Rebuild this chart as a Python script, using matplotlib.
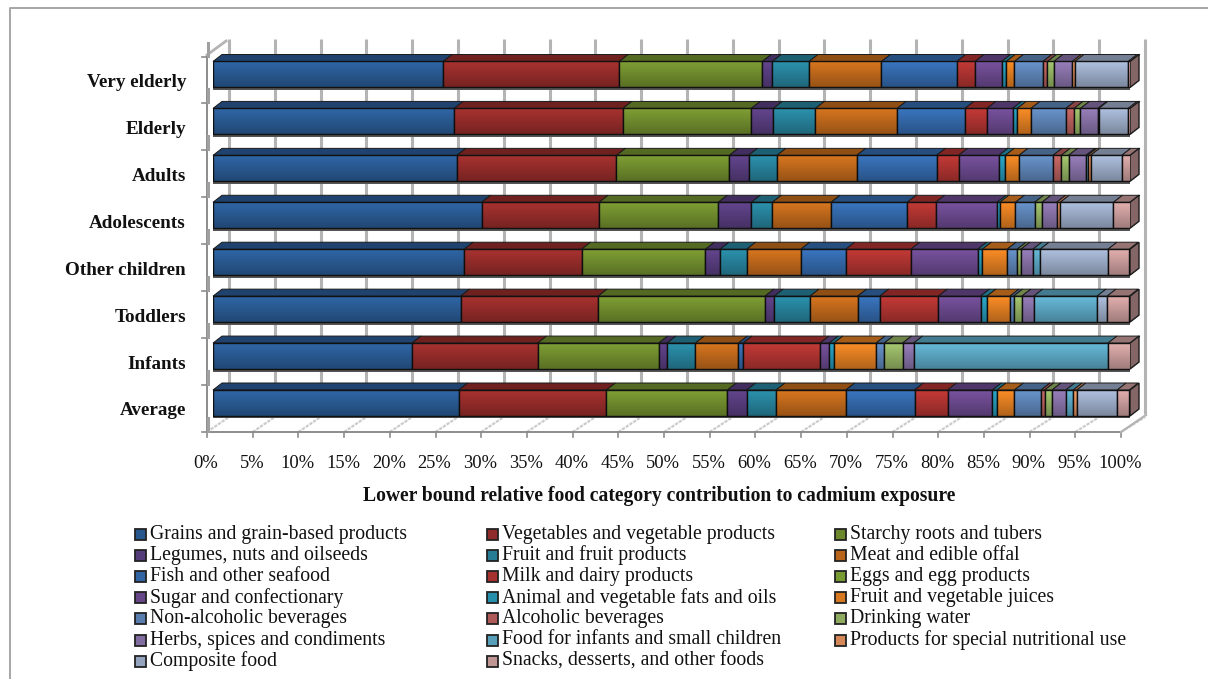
import numpy as np
import matplotlib
matplotlib.use("Agg")
from matplotlib import pyplot as plt
from matplotlib.colors import to_rgb
from matplotlib.patches import Polygon, Rectangle

plt.rcParams['font.family'] = ['Liberation Serif', 'DejaVu Serif']

W, H = 1208, 679

groups = ["Average", "Infants", "Toddlers", "Other children", "Adolescents", "Adults", "Elderly", "Very elderly"]

categories = ["Grains and grain-based products", "Vegetables and vegetable products", "Starchy roots and tubers",
              "Legumes, nuts and oilseeds", "Fruit and fruit products", "Meat and edible offal",
              "Fish and other seafood", "Milk and dairy products", "Eggs and egg products",
              "Sugar and confectionary", "Animal and vegetable fats and oils", "Fruit and vegetable juices",
              "Non-alcoholic beverages", "Alcoholic beverages", "Drinking water",
              "Herbs, spices and condiments", "Food for infants and small children",
              "Products for special nutritional use", "Composite food", "Snacks, desserts, and other foods"]

colors = ["#2f66a6", "#a83230", "#7f9f34", "#63458e", "#2c92ae", "#d8761f",
          "#3a76c0", "#c43a37", "#8db53c", "#78529f", "#2ba8ca", "#fb8d26",
          "#6994cc", "#cc6a68", "#a6c870", "#9880bb", "#66bada", "#f9a068",
          "#afc1e0", "#e2b0ae"]

average = [26.8, 16.1, 13.2, 2.1, 3.2, 7.6, 7.5, 3.6, 0, 4.9, 0.5, 1.9, 2.9, 0.4, 0.8, 1.5, 0.8, 0.4, 4.4, 1.3]
infants = [21.7, 13.7, 13.2, 0.9, 3.1, 4.7, 0.5, 8.4, 0, 1.0, 0.5, 4.6, 0.9, 0, 2.0, 1.2, 21.2, 0, 0, 2.5]
toddlers = [27.0, 15.0, 18.2, 1.0, 3.9, 5.2, 2.4, 6.4, 0, 4.6, 0.7, 2.5, 0.4, 0, 0.9, 1.3, 6.9, 0, 1.1, 2.4]
other_children = [27.4, 12.8, 13.5, 1.6, 2.9, 5.9, 4.9, 7.1, 0, 7.3, 0.5, 2.7, 1.1, 0, 0.4, 1.3, 0.8, 0, 7.4, 2.3]
adolescents = [29.3, 12.8, 13.0, 3.6, 2.3, 6.4, 8.3, 3.1, 0, 6.7, 0.3, 1.7, 2.1, 0, 0.8, 1.6, 0, 0.4, 5.8, 1.9]
adults = [26.6, 17.4, 12.3, 2.1, 3.1, 8.7, 8.7, 2.4, 0, 4.4, 0.7, 1.5, 3.7, 0.9, 0.8, 1.9, 0.2, 0.3, 3.4, 1.0]
elderly = [26.3, 18.4, 14.0, 2.4, 4.6, 8.9, 7.4, 2.4, 0, 2.8, 0.5, 1.5, 3.8, 0.9, 0.7, 1.9, 0, 0.1, 3.2, 0.3]
very_elderly = [25.1, 19.2, 15.6, 1.1, 4.0, 7.9, 8.2, 2.0, 0, 2.9, 0.5, 0.9, 3.1, 0.5, 0.7, 2.0, 0, 0.3, 5.8, 0.3]

rows = [average, infants, toddlers, other_children, adolescents, adults, elderly, very_elderly]
xticks = list(range(0, 101, 5))

# pixel geometry of the fake 3d box
BAR_X0, BAR_X1 = 213, 1130
ROW_Y0, ROW_STEP = 403, 46.93
BAR_H = 26
DEPTH_X, DEPTH_Y = 9, 7
FLOOR_L, FLOOR_R, FLOOR_Y = 207, 1121, 432
WALL_L, WALL_R, WALL_Y = 229, 1145, 414
TOP_Y = 39


def shade(color, f):
    return tuple(c * f for c in to_rgb(color))


fig = plt.figure(figsize=(W / 100, H / 100), dpi=100)
bg = fig.add_axes([0, 0, 1, 1])
bg.set_xlim(0, W)
bg.set_ylim(H, 0)
bg.axis("off")

# outer frame, no right or bottom side in the reference
bg.plot([10, 10, W], [H, 8, 8], color="#a6a6a6", lw=1.4)

# back wall grid
for t in xticks:
    x = WALL_L + (WALL_R - WALL_L) * t / 100
    bg.plot([x, x], [TOP_Y, WALL_Y], color="#b4b4b4", lw=2.2, zorder=1, solid_capstyle="butt")
    fx = FLOOR_L + (FLOOR_R - FLOOR_L) * t / 100
    bg.plot([fx, x], [FLOOR_Y, WALL_Y + 3], color="#cccccc", lw=1.6, ls=(0, (1.5, 0.5)), zorder=1)
    bg.plot([fx, fx], [FLOOR_Y, FLOOR_Y + 5], color="#8c8c8c", lw=1.2, zorder=1)

bg.plot([FLOOR_L, FLOOR_R], [FLOOR_Y, FLOOR_Y], color="#8c8c8c", lw=1.4, zorder=2)
bg.plot([FLOOR_L, FLOOR_L], [55, FLOOR_Y], color="#8c8c8c", lw=1.4, zorder=2)
bg.plot([FLOOR_L, WALL_L - 3], [55, 41], color="#b4b4b4", lw=2, zorder=2)
bg.plot([FLOOR_R, WALL_R + 1], [FLOOR_Y, WALL_Y + 1], color="#b4b4b4", lw=1.6, zorder=2)
for i in range(9):
    y = FLOOR_Y - i * ROW_STEP
    bg.plot([FLOOR_L - 5, FLOOR_L], [y, y], color="#8c8c8c", lw=1.2, zorder=2)
    bg.plot([FLOOR_L + 1, FLOOR_L + 1], [y - 14, y - 1], color="#a0a0a0", lw=2.2, zorder=2)

# axes with the bars' front faces, the scale runs 0-100 along the bar front
ax = fig.add_axes([BAR_X0 / W, 1 - (ROW_Y0 + 30) / H, (BAR_X1 - BAR_X0) / W, (7 * ROW_STEP + 60) / H])
ax.patch.set_alpha(0)
ax.axis("off")

px_x = 100 / (BAR_X1 - BAR_X0)
px_y = 1 / ROW_STEP
bar_h = BAR_H * px_y
dx = DEPTH_X * px_x
dy = DEPTH_Y * px_y
overlay = np.zeros((64, 1, 4))
overlay[:, 0, 3] = np.linspace(0, 0.3, 64)

for i, vals in enumerate(rows):
    left = 0.0
    top = i + bar_h / 2
    # shadow strip below the bar
    ax.add_patch(Rectangle((0, i - bar_h / 2 - 2.5 * px_y), 100, 2.5 * px_y, color="#555555", lw=0, zorder=2))
    for val, col in zip(vals, colors):
        if val > 0:
            ax.barh(i, val, left=left, height=bar_h, color=col, edgecolor="#111111", linewidth=1.0, zorder=4)
            ax.add_patch(Polygon([(left, top), (left + val, top), (left + val + dx, top + dy), (left + dx, top + dy)],
                                 closed=True, facecolor=shade(col, 0.66), edgecolor="#1a1a1a", lw=0.7, zorder=3,
                                 clip_on=False))
        left += val
    # right hand end of the bar, takes the colour of the last series
    ax.add_patch(Polygon([(100, top), (100 + dx, top + dy), (100 + dx, top + dy - bar_h), (100, top - bar_h)],
                         closed=True, facecolor=shade(colors[-1], 0.58), edgecolor="#1a1a1a", lw=1.0, zorder=3,
                         clip_on=False))
    ax.imshow(overlay, extent=(0, 100, i - bar_h / 2, i + bar_h / 2), aspect="auto", zorder=5)
    ax.text(-27 * px_x, i - 8 * px_y, groups[i], ha="right", va="center", fontsize=13.8, fontweight="bold", color="#111111")
ax.set_xlim(0, 100)
ax.set_ylim(-30 / ROW_STEP, 7 + 30 / ROW_STEP)

for t in xticks:
    fx = FLOOR_L + (FLOOR_R - FLOOR_L) * t / 100
    bg.text(fx - 1, 463, f"{t}%", ha="center", va="center", fontsize=13.3, color="#111111")
bg.text(659, 496, "Lower bound relative food category contribution to cadmium exposure", ha="center", va="center",
        fontsize=14.1, fontweight="bold", color="#111111")

# legend written row by row, three columns
col_x = [135, 487, 835]
for k, (name, col) in enumerate(zip(categories, colors)):
    r, c = divmod(k, 3)
    y = 534 + r * 21.2
    bg.add_patch(Rectangle((col_x[c], y - 5.5), 11, 11, facecolor=shade(col, 0.85), edgecolor="#222222", lw=1.3))
    bg.text(col_x[c] + 15, y, name, ha="left", va="center", fontsize=14.2, color="#111111")

fig.savefig("out.png", dpi=100)
